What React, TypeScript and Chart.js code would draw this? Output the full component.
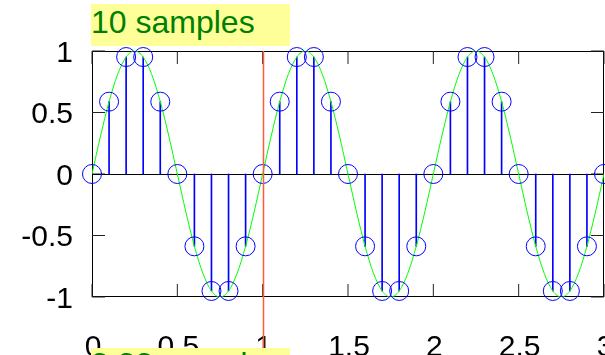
import { useEffect, useRef } from 'react';
import { Chart, registerables } from 'chart.js';

Chart.register(...registerables);

// Sampled sine: 10 samples per period over three periods
const sampleX = [
  0, 0.1, 0.2, 0.3, 0.4, 0.5, 0.6, 0.7, 0.8, 0.9,
  1, 1.1, 1.2, 1.3, 1.4, 1.5, 1.6, 1.7, 1.8, 1.9,
  2, 2.1, 2.2, 2.3, 2.4, 2.5, 2.6, 2.7, 2.8, 2.9,
  3,
];
const sampleY = [
  0, 0.588, 0.951, 0.951, 0.588, 0, -0.588, -0.951, -0.951, -0.588,
  0, 0.588, 0.951, 0.951, 0.588, 0, -0.588, -0.951, -0.951, -0.588,
  0, 0.588, 0.951, 0.951, 0.588, 0, -0.588, -0.951, -0.951, -0.588,
  0,
];

// Underlying continuous signal
const curveX = [
  0, 0.05, 0.1, 0.15, 0.2, 0.25, 0.3, 0.35, 0.4, 0.45,
  0.5, 0.55, 0.6, 0.65, 0.7, 0.75, 0.8, 0.85, 0.9, 0.95,
  1, 1.05, 1.1, 1.15, 1.2, 1.25, 1.3, 1.35, 1.4, 1.45,
  1.5, 1.55, 1.6, 1.65, 1.7, 1.75, 1.8, 1.85, 1.9, 1.95,
  2, 2.05, 2.1, 2.15, 2.2, 2.25, 2.3, 2.35, 2.4, 2.45,
  2.5, 2.55, 2.6, 2.65, 2.7, 2.75, 2.8, 2.85, 2.9, 2.95,
  3,
];
const curveY = [
  0, 0.309, 0.588, 0.809, 0.951, 1, 0.951, 0.809, 0.588, 0.309,
  0, -0.309, -0.588, -0.809, -0.951, -1, -0.951, -0.809, -0.588, -0.309,
  0, 0.309, 0.588, 0.809, 0.951, 1, 0.951, 0.809, 0.588, 0.309,
  0, -0.309, -0.588, -0.809, -0.951, -1, -0.951, -0.809, -0.588, -0.309,
  0, 0.309, 0.588, 0.809, 0.951, 1, 0.951, 0.809, 0.588, 0.309,
  0, -0.309, -0.588, -0.809, -0.951, -1, -0.951, -0.809, -0.588, -0.309,
  0,
];

const xTickLabels = ['0', '0.5', '1', '1.5', '2', '2.5', '3'];
const yTickLabels = ['-1', '-0.5', '0', '0.5', '1'];
const markerX = 1;
const titleText = '10 samples';
const nextTitleText = '3.33 samples';

const FONT = '"Liberation Sans", Arial, Helvetica, sans-serif';
const CANVAS_W = 664;
const CANVAS_H = 360;
const PLOT_LEFT = 92;
const PLOT_TOP = 51;
const PLOT_RIGHT = 604;
const PLOT_BOTTOM = 297;
const TICK_LEN = 13;

// Box frame, inward tick marks on all four sides, zero baseline
const framePlugin = {
  id: 'frame',
  beforeDatasetsDraw(chart: any) {
    const { ctx, chartArea: a, scales } = chart;
    const xs = scales.x;
    const ys = scales.y;
    ctx.save();
    ctx.lineWidth = 1;
    ctx.strokeStyle = '#000';
    const l = Math.round(a.left) + 0.5;
    const r = Math.round(a.right) - 0.5;
    const t = Math.round(a.top) + 0.5;
    const b = Math.round(a.bottom) - 0.5;
    ctx.beginPath();
    ctx.moveTo(l, t);
    ctx.lineTo(r, t);
    ctx.lineTo(r, b);
    ctx.lineTo(l, b);
    ctx.closePath();
    ctx.stroke();

    ctx.strokeStyle = '#222';
    ctx.beginPath();
    xs.ticks.forEach((tk: any) => {
      const px = xs.getPixelForValue(tk.value);
      ctx.moveTo(px, a.top);
      ctx.lineTo(px, a.top + TICK_LEN);
      ctx.moveTo(px, a.bottom);
      ctx.lineTo(px, a.bottom - TICK_LEN);
    });
    ys.ticks.forEach((tk: any) => {
      const py = ys.getPixelForValue(tk.value);
      ctx.moveTo(a.left, py);
      ctx.lineTo(a.left + TICK_LEN, py);
      ctx.moveTo(a.right, py);
      ctx.lineTo(a.right - TICK_LEN, py);
    });
    ctx.stroke();

    const zy = Math.round(ys.getPixelForValue(0)) + 0.5;
    ctx.strokeStyle = '#000';
    ctx.beginPath();
    ctx.moveTo(a.left, zy);
    ctx.lineTo(a.right, zy);
    ctx.stroke();
    ctx.restore();
  },
  afterDraw(chart: any) {
    // Vertical marker running from the plot top down past the axis labels
    const { ctx, chartArea: a, scales } = chart;
    const mx = Math.round(scales.x.getPixelForValue(markerX)) + 0.5;
    ctx.save();
    ctx.strokeStyle = '#ff5a3a';
    ctx.lineWidth = 1.5;
    ctx.beginPath();
    ctx.moveTo(mx, a.top);
    ctx.lineTo(mx, chart.height);
    ctx.stroke();
    ctx.restore();
  },
};

export default function App() {
  const canvasRef = useRef<HTMLCanvasElement | null>(null);

  useEffect(() => {
    const canvas = canvasRef.current;
    if (!canvas) return;
    const samplePoints = sampleX.map((x, i) => ({ x, y: sampleY[i] }));
    const curvePoints = curveX.map((x, i) => ({ x, y: curveY[i] }));

    const chart = new Chart(canvas, {
      type: 'line',
      data: {
        datasets: [
          {
            type: 'scatter',
            label: 'samples',
            data: samplePoints,
            showLine: false,
            pointRadius: 9.5,
            pointHoverRadius: 9.5,
            pointBorderWidth: 1,
            pointBorderColor: '#0000ff',
            pointBackgroundColor: 'rgba(0,0,0,0)',
            clip: false,
            order: 1,
          } as any,
          {
            type: 'line',
            label: 'signal',
            data: curvePoints,
            borderColor: '#00ff00',
            borderWidth: 1,
            pointRadius: 0,
            fill: false,
            cubicInterpolationMode: 'monotone',
            order: 2,
          },
          {
            type: 'bar',
            label: 'stems',
            data: samplePoints,
            backgroundColor: '#0000ff',
            borderWidth: 0,
            barThickness: 1,
            order: 3,
          } as any,
        ],
      },
      options: {
        animation: false,
        responsive: false,
        devicePixelRatio: 1,
        events: [],
        layout: {
          padding: { top: PLOT_TOP, right: CANVAS_W - PLOT_RIGHT, left: 0, bottom: 0 },
        },
        plugins: {
          legend: { display: false },
          title: { display: false },
          tooltip: { enabled: false },
        },
        scales: {
          x: {
            type: 'linear',
            min: 0,
            max: 3,
            offset: false,
            grid: { display: false, drawTicks: false, offset: false },
            border: { display: false },
            ticks: {
              stepSize: 0.5,
              autoSkip: false,
              maxRotation: 0,
              padding: 33,
              labelOffset: 1,
              color: '#000',
              font: { family: FONT, size: 30 },
              callback: (_v: any, i: number) => xTickLabels[i],
            },
            afterFit: (scale: any) => {
              scale.height = CANVAS_H - PLOT_BOTTOM;
            },
          },
          y: {
            type: 'linear',
            min: -1,
            max: 1,
            grid: { display: false, drawTicks: false },
            border: { display: false },
            ticks: {
              stepSize: 0.5,
              autoSkip: false,
              padding: 19,
              labelOffset: 2.5,
              color: '#000',
              font: { family: FONT, size: 30 },
              callback: (_v: any, i: number) => yTickLabels[i],
            },
            afterFit: (scale: any) => {
              scale.width = PLOT_LEFT;
            },
          },
        },
      } as any,
      plugins: [framePlugin],
    });

    return () => chart.destroy();
  }, []);

  const boxStyle = (top: number): any => ({
    position: 'absolute',
    left: 91,
    top,
    width: 199,
    height: 42,
    background: '#ffff99',
  });
  const textStyle = (top: number): any => ({
    position: 'absolute',
    left: 0,
    top,
    fontFamily: FONT,
    fontSize: 32,
    lineHeight: '32px',
    color: '#008000',
    whiteSpace: 'nowrap',
  });

  return (
    <div
      style={{
        position: 'fixed',
        left: 0,
        top: 0,
        width: 605,
        height: 355,
        overflow: 'hidden',
        background: '#fff',
      }}
    >
      <canvas
        ref={canvasRef}
        width={CANVAS_W}
        height={CANVAS_H}
        style={{ position: 'absolute', left: 0, top: 0, width: CANVAS_W, height: CANVAS_H }}
      />
      <div style={boxStyle(4)}>
        <span style={textStyle(2)}>{titleText}</span>
      </div>
      <div style={boxStyle(348)}>
        <span style={textStyle(0)}>{nextTitleText}</span>
      </div>
    </div>
  );
}
